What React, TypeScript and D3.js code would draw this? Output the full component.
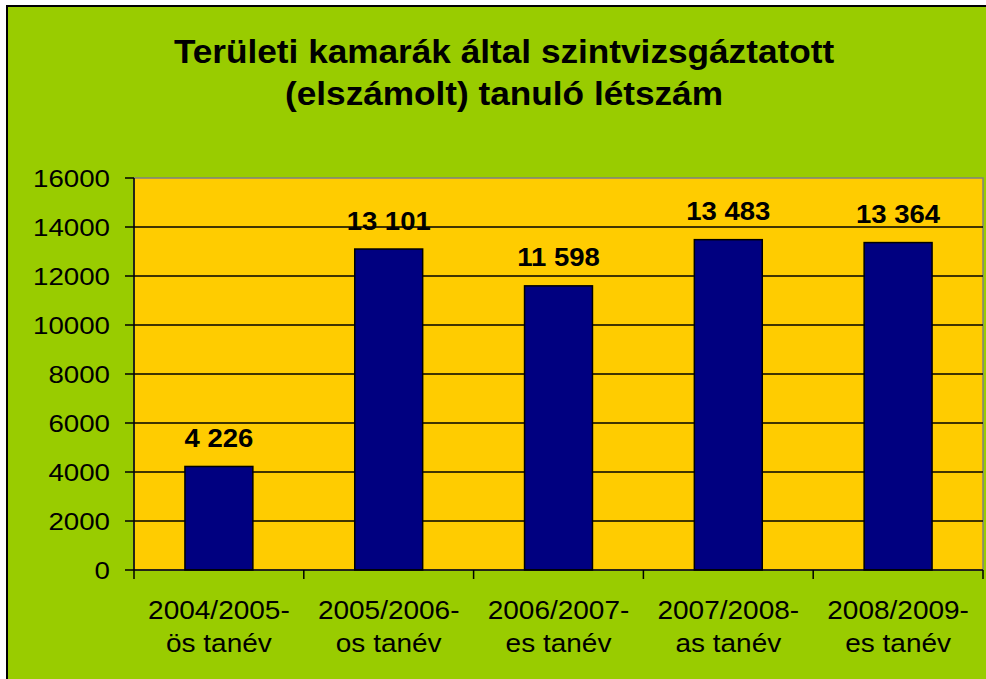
import React from "react";
import * as d3 from "d3";

const categoriesLine1 = ["2004/2005-", "2005/2006-", "2006/2007-", "2007/2008-", "2008/2009-"];
const categoriesLine2 = ["ös tanév", "os tanév", "es tanév", "as tanév", "es tanév"];
const values = [4226, 13101, 11598, 13483, 13364];
const yTicks = [0, 2000, 4000, 6000, 8000, 10000, 12000, 14000, 16000];
const titleLines = ["Területi kamarák által szintvizsgáztatott", "(elszámolt) tanuló létszám"];

const W = 986;
const H = 679;
const plot = { left: 134, top: 178, right: 983, bottom: 570 };
const FONT = "'Liberation Sans', Arial, Helvetica, sans-serif";
const SX = 1.1;

const fmt = (v: number) => {
  const s = String(v);
  return s.replace(/\B(?=(\d{3})+(?!\d))/g, " ");
};

export default function App() {
  const x = d3
    .scaleBand<number>()
    .domain(values.map((_, i) => i))
    .range([plot.left, plot.right])
    .paddingInner(0.6)
    .paddingOuter(0.3);
  const y = d3.scaleLinear().domain([0, 16000]).range([plot.bottom, plot.top]);
  const step = (plot.right - plot.left) / values.length;

  return (
    <svg
      width={W}
      height={H}
      style={{ position: "absolute", left: 0, top: 0, background: "#ffffff" }}
      fontFamily={FONT}
    >
      <rect x={7} y={6} width={W + 10} height={H + 10} fill="#99CC00" stroke="#000" strokeWidth={2} />

      {titleLines.map((t, i) => (
        <text
          key={i}
          transform={`translate(504,${63 + i * 42}) scale(1.08,1)`}
          textAnchor="middle"
          fontSize={32.6}
          fontWeight="bold"
          fill="#000"
        >
          {t}
        </text>
      ))}

      <rect
        x={plot.left}
        y={plot.top}
        width={plot.right - plot.left}
        height={plot.bottom - plot.top}
        fill="#FFCC00"
        stroke="#808080"
        strokeWidth={1.5}
      />

      {yTicks.map((t) => (
        <g key={t}>
          {t > 0 && t < 16000 && (
            <line x1={plot.left} x2={plot.right} y1={y(t)} y2={y(t)} stroke="#000" strokeWidth={1.3} />
          )}
          <line x1={plot.left - 9} x2={plot.left} y1={y(t)} y2={y(t)} stroke="#000" strokeWidth={1.5} />
          <text
            transform={`translate(110,${y(t) + 9}) scale(1.13,1)`}
            textAnchor="end"
            fontSize={24.5}
            fill="#000"
          >
            {t}
          </text>
        </g>
      ))}

      {values.map((v, i) => (
        <g key={i}>
          <rect
            x={x(i)!}
            y={y(v)}
            width={x.bandwidth()}
            height={y(0) - y(v)}
            fill="#000080"
            stroke="#000"
            strokeWidth={1.5}
          />
          <text
            transform={`translate(${x(i)! + x.bandwidth() / 2},${y(v) - 19.5}) scale(${SX},1)`}
            textAnchor="middle"
            fontSize={25}
            fontWeight="bold"
            fill="#000"
          >
            {fmt(v)}
          </text>
          <text
            transform={`translate(${x(i)! + x.bandwidth() / 2},619) scale(1.12,1)`}
            textAnchor="middle"
            fontSize={25}
            fill="#000"
          >
            {categoriesLine1[i]}
          </text>
          <text
            transform={`translate(${x(i)! + x.bandwidth() / 2},652) scale(1.12,1)`}
            textAnchor="middle"
            fontSize={25}
            fill="#000"
          >
            {categoriesLine2[i]}
          </text>
        </g>
      ))}

      <line x1={plot.left} x2={plot.left} y1={plot.top} y2={plot.bottom} stroke="#000" strokeWidth={1.5} />
      <line x1={plot.left} x2={plot.right} y1={plot.bottom} y2={plot.bottom} stroke="#000" strokeWidth={1.5} />
      {d3.range(values.length + 1).map((k) => (
        <line
          key={k}
          x1={plot.left + k * step}
          x2={plot.left + k * step}
          y1={plot.bottom}
          y2={plot.bottom + 9}
          stroke="#000"
          strokeWidth={1.5}
        />
      ))}
    </svg>
  );
}
